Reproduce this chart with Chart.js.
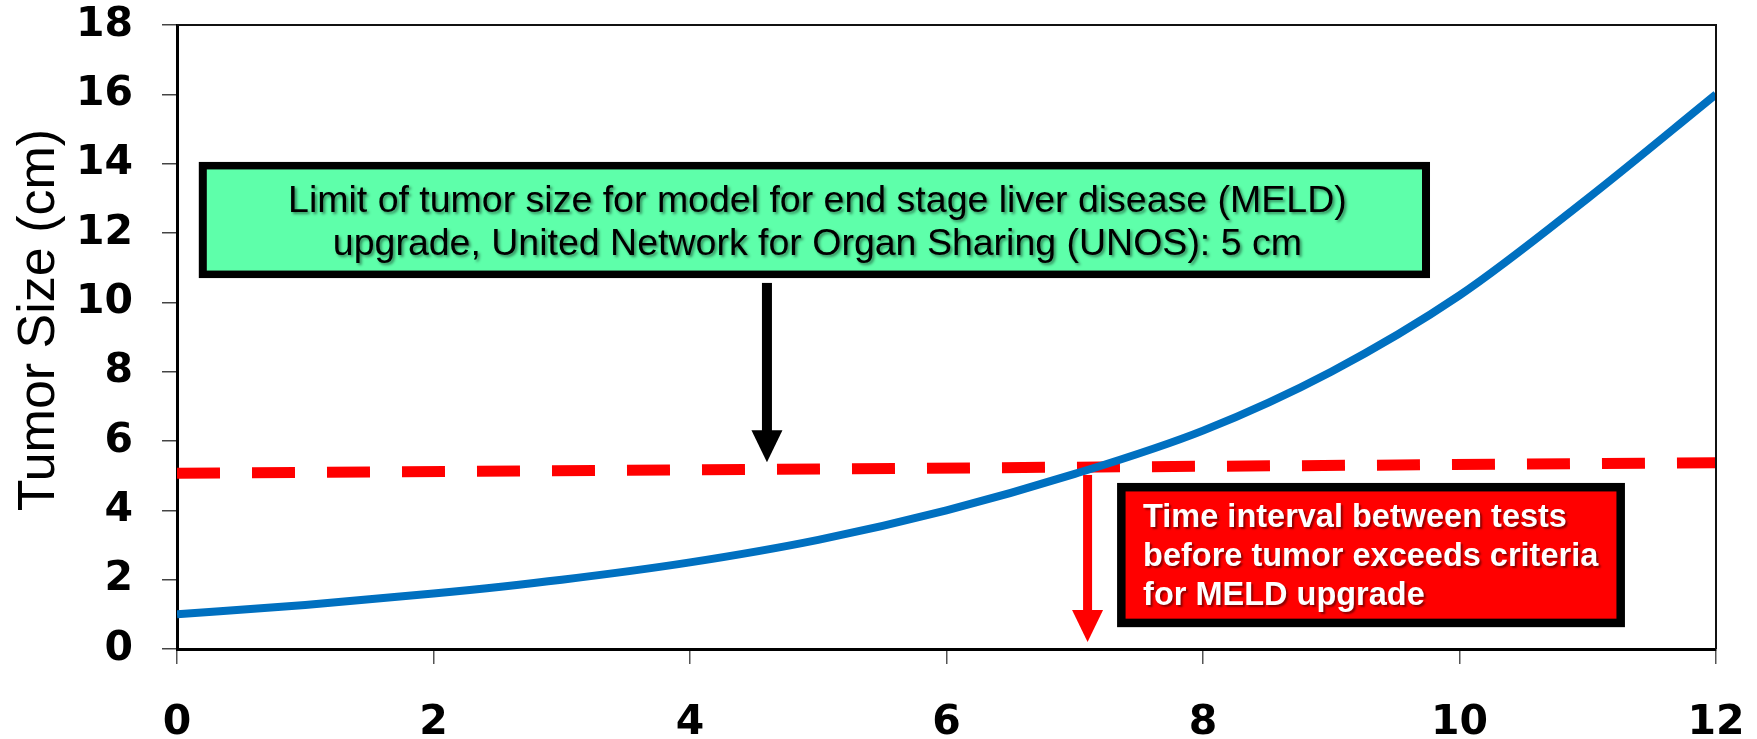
<!DOCTYPE html>
<html><head><meta charset="utf-8">
<script src="https://cdn.jsdelivr.net/npm/chart.js@4/dist/chart.umd.min.js"></script>
<style>html,body{margin:0;padding:0;background:#fff;}#wrap{width:1757px;height:739px;}</style>
</head><body><div id="wrap"><canvas id="c" width="1757" height="739"></canvas></div>
<script>
// ---- data ----
const timeYears    = [0, 1, 2, 3, 4, 5, 6, 7, 8, 9, 10, 11, 12];
const tumorSizeCm  = [1.0, 1.27, 1.6, 2.0, 2.5, 3.15, 4.0, 5.05, 6.3, 8.0, 10.2, 13.0, 16.0];
const meldLimitX   = [0, 12];
const meldLimitCm  = [5.07, 5.37];
const xRange = [0, 12], xStep = 2;
const yRange = [0, 18], yStep = 2;
const yTitle = 'Tumor Size (cm)';
const greenLines = ['Limit of tumor size for model for end stage liver disease (MELD)',
                    'upgrade, United Network for Organ Sharing (UNOS): 5 cm'];
const redLines = ['Time interval between tests', 'before tumor exceeds criteria', 'for MELD upgrade'];
// annotation anchors in data units
const greenBox = {x0: 0.17, x1: 9.77, yTop: 14.05, yBot: 10.70};
const redBox   = {x0: 7.33, x1: 11.29, yTop: 4.79, yBot: 0.63};
const blackArrow = {x: 4.60, yFrom: 10.56, yTo: 5.39};
const redArrow   = {x: 7.10, yFrom: 5.02, yTo: 0.20};

const tickFont = {family: 'DejaVu Sans', weight: 'bold', size: 41};

function arrow(ctx, x, y0, y1, shaftW, headW, headL, color) {
  ctx.save();
  ctx.fillStyle = color;
  ctx.fillRect(x - shaftW / 2, y0, shaftW, (y1 - headL) - y0 + 1);
  ctx.beginPath();
  ctx.moveTo(x - headW / 2, y1 - headL);
  ctx.lineTo(x + headW / 2, y1 - headL);
  ctx.lineTo(x, y1);
  ctx.closePath();
  ctx.fill();
  ctx.restore();
}

const annotPlugin = {
  id: 'annot',
  afterDraw(chart) {
    const ctx = chart.ctx, xs = chart.scales.x, ys = chart.scales.y, a = chart.chartArea;
    ctx.save();
    // frame top/right
    ctx.strokeStyle = '#111';
    ctx.lineWidth = 2;
    ctx.beginPath();
    ctx.moveTo(a.left, a.top); ctx.lineTo(a.right, a.top); ctx.lineTo(a.right, a.bottom);
    ctx.stroke();

    // y title
    ctx.save();
    ctx.translate(40, 320);
    ctx.rotate(-Math.PI / 2);
    ctx.font = '52px "Liberation Sans", Arial, sans-serif';
    ctx.fillStyle = '#000';
    ctx.textAlign = 'center';
    ctx.textBaseline = 'middle';
    ctx.fillText(yTitle, 0, 0);
    ctx.restore();

    // green box
    let gx0 = xs.getPixelForValue(greenBox.x0), gx1 = xs.getPixelForValue(greenBox.x1);
    let gy0 = ys.getPixelForValue(greenBox.yTop), gy1 = ys.getPixelForValue(greenBox.yBot);
    ctx.fillStyle = '#000';
    ctx.fillRect(gx0, gy0, gx1 - gx0, gy1 - gy0);
    ctx.fillStyle = '#5EFFAA';
    ctx.fillRect(gx0 + 8, gy0 + 7.5, gx1 - gx0 - 16, gy1 - gy0 - 15);
    ctx.save();
    ctx.font = '37.5px "Liberation Sans", Arial, sans-serif';
    ctx.textAlign = 'center';
    ctx.textBaseline = 'alphabetic';
    ctx.shadowColor = 'rgba(0,0,0,0.45)';
    ctx.shadowOffsetX = 2; ctx.shadowOffsetY = 2; ctx.shadowBlur = 3;
    ctx.fillStyle = '#000';
    const gcx = (gx0 + gx1) / 2 + 3;
    ctx.fillText(greenLines[0], gcx, gy0 + 50);
    ctx.fillText(greenLines[1], gcx, gy0 + 93);
    ctx.restore();

    // red box
    let rx0 = xs.getPixelForValue(redBox.x0), rx1 = xs.getPixelForValue(redBox.x1);
    let ry0 = ys.getPixelForValue(redBox.yTop), ry1 = ys.getPixelForValue(redBox.yBot);
    ctx.fillStyle = '#000';
    ctx.fillRect(rx0, ry0, rx1 - rx0, ry1 - ry0);
    ctx.fillStyle = '#FF0000';
    ctx.fillRect(rx0 + 8.5, ry0 + 8.5, rx1 - rx0 - 17, ry1 - ry0 - 17);
    ctx.save();
    ctx.font = 'bold 32.5px "Liberation Sans", Arial, sans-serif';
    ctx.textAlign = 'left';
    ctx.textBaseline = 'alphabetic';
    ctx.shadowColor = 'rgba(60,0,0,0.6)';
    ctx.shadowOffsetX = 2; ctx.shadowOffsetY = 2; ctx.shadowBlur = 2;
    ctx.fillStyle = '#fff';
    redLines.forEach((t, i) => ctx.fillText(t, rx0 + 26, ry0 + 44 + i * 39));
    ctx.restore();

    // arrows
    arrow(ctx, xs.getPixelForValue(blackArrow.x), ys.getPixelForValue(blackArrow.yFrom),
          ys.getPixelForValue(blackArrow.yTo), 10, 31, 32, '#000');
    arrow(ctx, xs.getPixelForValue(redArrow.x), ys.getPixelForValue(redArrow.yFrom),
          ys.getPixelForValue(redArrow.yTo), 9, 31, 32, '#FF0000');
    ctx.restore();
  }
};

new Chart(document.getElementById('c'), {
  type: 'line',
  data: {
    datasets: [
      {
        label: 'Tumor size',
        data: timeYears.map((x, i) => ({x, y: tumorSizeCm[i]})),
        borderColor: '#0070C0',
        borderWidth: 8,
        pointRadius: 0,
        cubicInterpolationMode: 'monotone',
        fill: false
      },
      {
        label: 'MELD limit',
        data: meldLimitX.map((x, i) => ({x, y: meldLimitCm[i]})),
        borderColor: '#FF0000',
        borderWidth: 11,
        borderDash: [43, 32],
        borderCapStyle: 'butt',
        pointRadius: 0,
        fill: false
      }
    ]
  },
  options: {
    responsive: false,
    animation: false,
    layout: {padding: {top: 25, right: 41, left: 0, bottom: 0}},
    plugins: {legend: {display: false}, tooltip: {enabled: false}},
    scales: {
      x: {
        type: 'linear', min: xRange[0], max: xRange[1],
        ticks: {stepSize: xStep, font: tickFont, color: '#000', padding: 35, maxRotation: 0},
        grid: {drawOnChartArea: false, drawTicks: true, tickLength: 15, color: '#555', lineWidth: 1.5},
        border: {display: true, color: '#000', width: 3},
        afterFit: s => { s.height = 90; s.paddingLeft = 0; s.paddingRight = 0; }
      },
      y: {
        min: yRange[0], max: yRange[1],
        ticks: {stepSize: yStep, font: tickFont, color: '#000', padding: 29},
        grid: {drawOnChartArea: false, drawTicks: true, tickLength: 15, color: '#444', lineWidth: 1.5},
        border: {display: true, color: '#000', width: 3},
        afterFit: s => { s.width = 177; s.paddingTop = 0; s.paddingBottom = 0; }
      }
    }
  },
  plugins: [annotPlugin]
});
</script>
</body></html>
